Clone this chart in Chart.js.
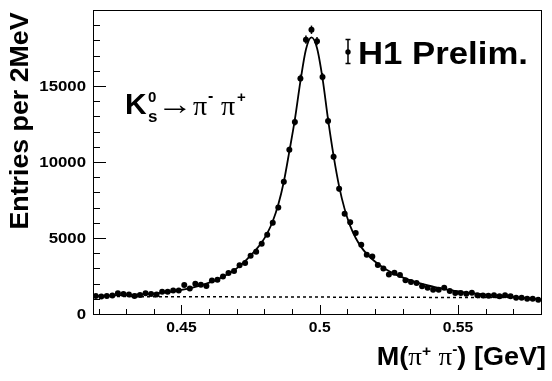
<!DOCTYPE html>
<html>
<head>
<meta charset="utf-8">
<script src="https://cdn.jsdelivr.net/npm/chart.js@4.4.1/dist/chart.umd.min.js"></script>
<style>
  body { margin: 0; background: #fff; }
</style>
</head>
<body>
<canvas id="myChart" width="552" height="381"></canvas>
<script>
// histogram binning: 2 MeV bins starting at 0.418 GeV
const binStart = 0.418;
const binWidth = 0.002;

// entries per bin
const entries = [
  1190, 1150, 1190, 1210, 1360, 1320, 1280, 1190, 1250, 1360,
  1320, 1280, 1470, 1470, 1540, 1540, 1900, 1680, 1990, 1920,
  1850, 2200, 2250, 2470, 2700, 2830, 3200, 3360, 3840, 4100,
  4620, 5210, 6000, 7000, 8700, 10800, 12630, 15500, 18050, 18700,
  17950, 15600, 12700, 10350, 8240, 6600, 6040, 5330, 4550, 3900,
  3780, 3220, 3000, 2600, 2710, 2560, 2220, 2110, 2040, 1820,
  1730, 1600, 1600, 1730, 1510, 1380, 1380, 1330, 1400, 1240,
  1220, 1200, 1240, 1160, 1240, 1160, 1070, 1070, 1000, 1000,
  930
];
const entryErrors = [
  70, 68, 70, 70, 74, 73, 72, 70, 71, 74,
  73, 72, 77, 77, 79, 79, 87, 82, 89, 88,
  86, 94, 95, 99, 104, 106, 113, 116, 124, 128,
  136, 144, 155, 167, 186, 208, 225, 249, 269, 274,
  268, 250, 225, 203, 182, 162, 155, 146, 135, 125,
  123, 113, 110, 102, 104, 101, 94, 92, 90, 85,
  83, 80, 80, 83, 78, 74, 74, 73, 75, 70,
  70, 69, 70, 68, 70, 68, 65, 65, 63, 63,
  61
];
// fit curve (signal + background) at the bin centres
const fitCurve = [
  1180, 1190, 1200, 1210, 1225, 1240, 1255, 1270, 1290, 1310,
  1335, 1360, 1400, 1440, 1490, 1550, 1620, 1700, 1790, 1890,
  2000, 2130, 2280, 2450, 2650, 2880, 3150, 3470, 3850, 4250,
  4700, 5300, 6100, 7200, 8700, 10700, 12800, 15300, 17400, 18200,
  17500, 15500, 12800, 10400, 8400, 6900, 5800, 5000, 4400, 3950,
  3600, 3300, 3050, 2830, 2640, 2480, 2330, 2200, 2080, 1980,
  1880, 1800, 1720, 1650, 1580, 1520, 1460, 1410, 1370, 1330,
  1290, 1260, 1230, 1200, 1170, 1140, 1100, 1070, 1040, 1010,
  985
];
// background part of the fit
const backgroundX = [0.418, 0.58];
const backgroundY = [1150, 1075];

const yTickLabels = [0, 5000, 10000, 15000];
const xTickLabels = [0.45, 0.5, 0.55];

const SANS = '"Liberation Sans", Arial, Helvetica, sans-serif';
const SERIF = '"Liberation Serif", "Times New Roman", serif';

const binCenters = entries.map((v, i) => +(binStart + binWidth * (i + 0.5)).toFixed(4));

// draw a list of text pieces one after another, stretched horizontally by sx
function drawRuns(ctx, runs, x, y, sx, align) {
  let total = 0;
  runs.forEach(r => {
    ctx.font = r.font;
    r.w = ctx.measureText(r.text).width;
    total += r.w;
  });
  let x0 = x;
  if (align === "center") x0 = x - (total * sx) / 2;
  if (align === "right") x0 = x - total * sx;
  ctx.save();
  ctx.translate(x0, y);
  ctx.scale(sx, 1);
  ctx.textAlign = "left";
  let cx = 0;
  runs.forEach(r => {
    ctx.font = r.font;
    ctx.fillText(r.text, cx, r.dy || 0);
    cx += r.w;
  });
  ctx.restore();
}

const h1Plot = {
  id: "h1Plot",
  afterDatasetsDraw(chart) {
    const ctx = chart.ctx;
    const xs = chart.scales.x;
    const ys = chart.scales.y;
    // error bars
    ctx.save();
    ctx.strokeStyle = "#000";
    ctx.lineWidth = 1.5;
    entries.forEach((v, i) => {
      const px = xs.getPixelForValue(binCenters[i]);
      ctx.beginPath();
      ctx.moveTo(px, ys.getPixelForValue(v - entryErrors[i]));
      ctx.lineTo(px, ys.getPixelForValue(v + entryErrors[i]));
      ctx.stroke();
    });
    ctx.restore();
  },
  afterDraw(chart) {
    const ctx = chart.ctx;
    const xs = chart.scales.x;
    const ys = chart.scales.y;
    const a = chart.chartArea;
    ctx.save();
    ctx.strokeStyle = "#000";
    ctx.fillStyle = "#000";
    ctx.lineWidth = 1;

    // frame
    ctx.strokeRect(Math.round(a.left) + 0.5, Math.round(a.top) + 0.5,
      Math.round(a.right - a.left), Math.round(a.bottom - a.top));

    // y ticks (inside frame)
    for (let v = 0; v <= ys.max; v += 1000) {
      const py = Math.round(ys.getPixelForValue(v)) + 0.5;
      const len = v % 5000 === 0 ? 13 : 7;
      ctx.beginPath();
      ctx.moveTo(a.left, py);
      ctx.lineTo(a.left + len, py);
      ctx.stroke();
    }
    // x ticks
    for (let k = 42; k <= 58; k++) {
      const v = k / 100;
      const px = Math.round(xs.getPixelForValue(v)) + 0.5;
      const len = k % 5 === 0 ? 9 : 5;
      ctx.beginPath();
      ctx.moveTo(px, a.bottom);
      ctx.lineTo(px, a.bottom - len);
      ctx.stroke();
    }

    // tick labels
    ctx.textBaseline = "middle";
    yTickLabels.forEach(v => {
      drawRuns(ctx, [{ text: String(v), font: "bold 14px " + SANS }],
        86, ys.getPixelForValue(v) + 1, 1.2, "right");
    });
    xTickLabels.forEach(v => {
      drawRuns(ctx, [{ text: String(v), font: "bold 14px " + SANS }],
        xs.getPixelForValue(v), 328, 1.12, "center");
    });

    // axis titles
    ctx.textBaseline = "alphabetic";
    const xTitle = [
      { text: "M(", font: "bold 26px " + SANS },
      { text: "\u03c0", font: "26px " + SERIF },
      { text: "+", font: "bold 15px " + SANS, dy: -9 },
      { text: " ", font: "bold 26px " + SANS },
      { text: "\u03c0", font: "26px " + SERIF },
      { text: "-", font: "bold 15px " + SANS, dy: -11 },
      { text: ") [GeV]", font: "bold 26px " + SANS }
    ];
    drawRuns(ctx, xTitle, 546, 365, 1.04, "right");

    ctx.save();
    ctx.translate(28, 121);
    ctx.rotate(-Math.PI / 2);
    drawRuns(ctx, [{ text: "Entries per 2MeV", font: "bold 25px " + SANS }], 0, 0, 1.07, "center");
    ctx.restore();

    // H1 Prelim. with error bar symbol
    ctx.lineWidth = 1.5;
    ctx.beginPath();
    ctx.moveTo(348, 39); ctx.lineTo(348, 64);
    ctx.moveTo(345.5, 39.5); ctx.lineTo(350.5, 39.5);
    ctx.moveTo(345.5, 63.5); ctx.lineTo(350.5, 63.5);
    ctx.stroke();
    ctx.beginPath();
    ctx.arc(348, 52, 2.7, 0, Math.PI * 2);
    ctx.fill();
    drawRuns(ctx, [{ text: "H1 Prelim.", font: "bold 32px " + SANS }], 358, 64, 1.086, "left");

    // decay label
    ctx.textAlign = "left";
    ctx.font = "bold 30px " + SANS;
    ctx.fillText("K", 125, 114);
    ctx.font = "bold 15px " + SANS;
    ctx.fillText("0", 148, 102);
    ctx.font = "bold 17px " + SANS;
    ctx.fillText("s", 148, 122);
    // arrow, stretched to the width it has in the original
    ctx.textBaseline = "middle";
    ctx.font = "30px " + SERIF;
    const arrowW = ctx.measureText("\u2192").width;
    drawRuns(ctx, [{ text: "\u2192", font: "30px " + SERIF }], 175, 106, 36 / arrowW, "center");
    ctx.textBaseline = "alphabetic";
    ctx.font = "28px " + SERIF;
    ctx.fillText("\u03c0", 193, 115);
    ctx.fillText("\u03c0", 221, 115);
    ctx.font = "bold 16px " + SANS;
    ctx.fillText("-", 208, 101);
    ctx.font = "bold 15px " + SANS;
    ctx.fillText("+", 237, 102);

    ctx.restore();
  }
};

var ctx = document.getElementById("myChart").getContext("2d");
var chart = new Chart(ctx, {
  type: "scatter",
  data: {
    datasets: [
      {
        label: "data",
        data: entries.map((v, i) => ({ x: binCenters[i], y: v })),
        pointRadius: 3,
        pointBackgroundColor: "#000",
        pointBorderWidth: 0,
        showLine: false,
        order: 0
      },
      {
        label: "fit",
        data: fitCurve.map((v, i) => ({ x: binCenters[i], y: v })),
        showLine: true,
        borderColor: "#000",
        borderWidth: 1.8,
        pointRadius: 0,
        cubicInterpolationMode: "monotone",
        order: 1
      },
      {
        label: "background",
        data: backgroundX.map((x, i) => ({ x: x, y: backgroundY[i] })),
        showLine: true,
        borderColor: "#000",
        borderWidth: 1.5,
        borderDash: [3, 3],
        pointRadius: 0,
        order: 2
      }
    ]
  },
  options: {
    responsive: false,
    animation: false,
    layout: { padding: { left: 93, right: 11, top: 10, bottom: 67 } },
    plugins: { legend: { display: false }, tooltip: { enabled: false } },
    scales: {
      x: { type: "linear", min: 0.418, max: 0.58, display: false },
      y: { type: "linear", min: 0, max: 20000, display: false }
    }
  },
  plugins: [h1Plot]
});
</script>
</body>
</html>
